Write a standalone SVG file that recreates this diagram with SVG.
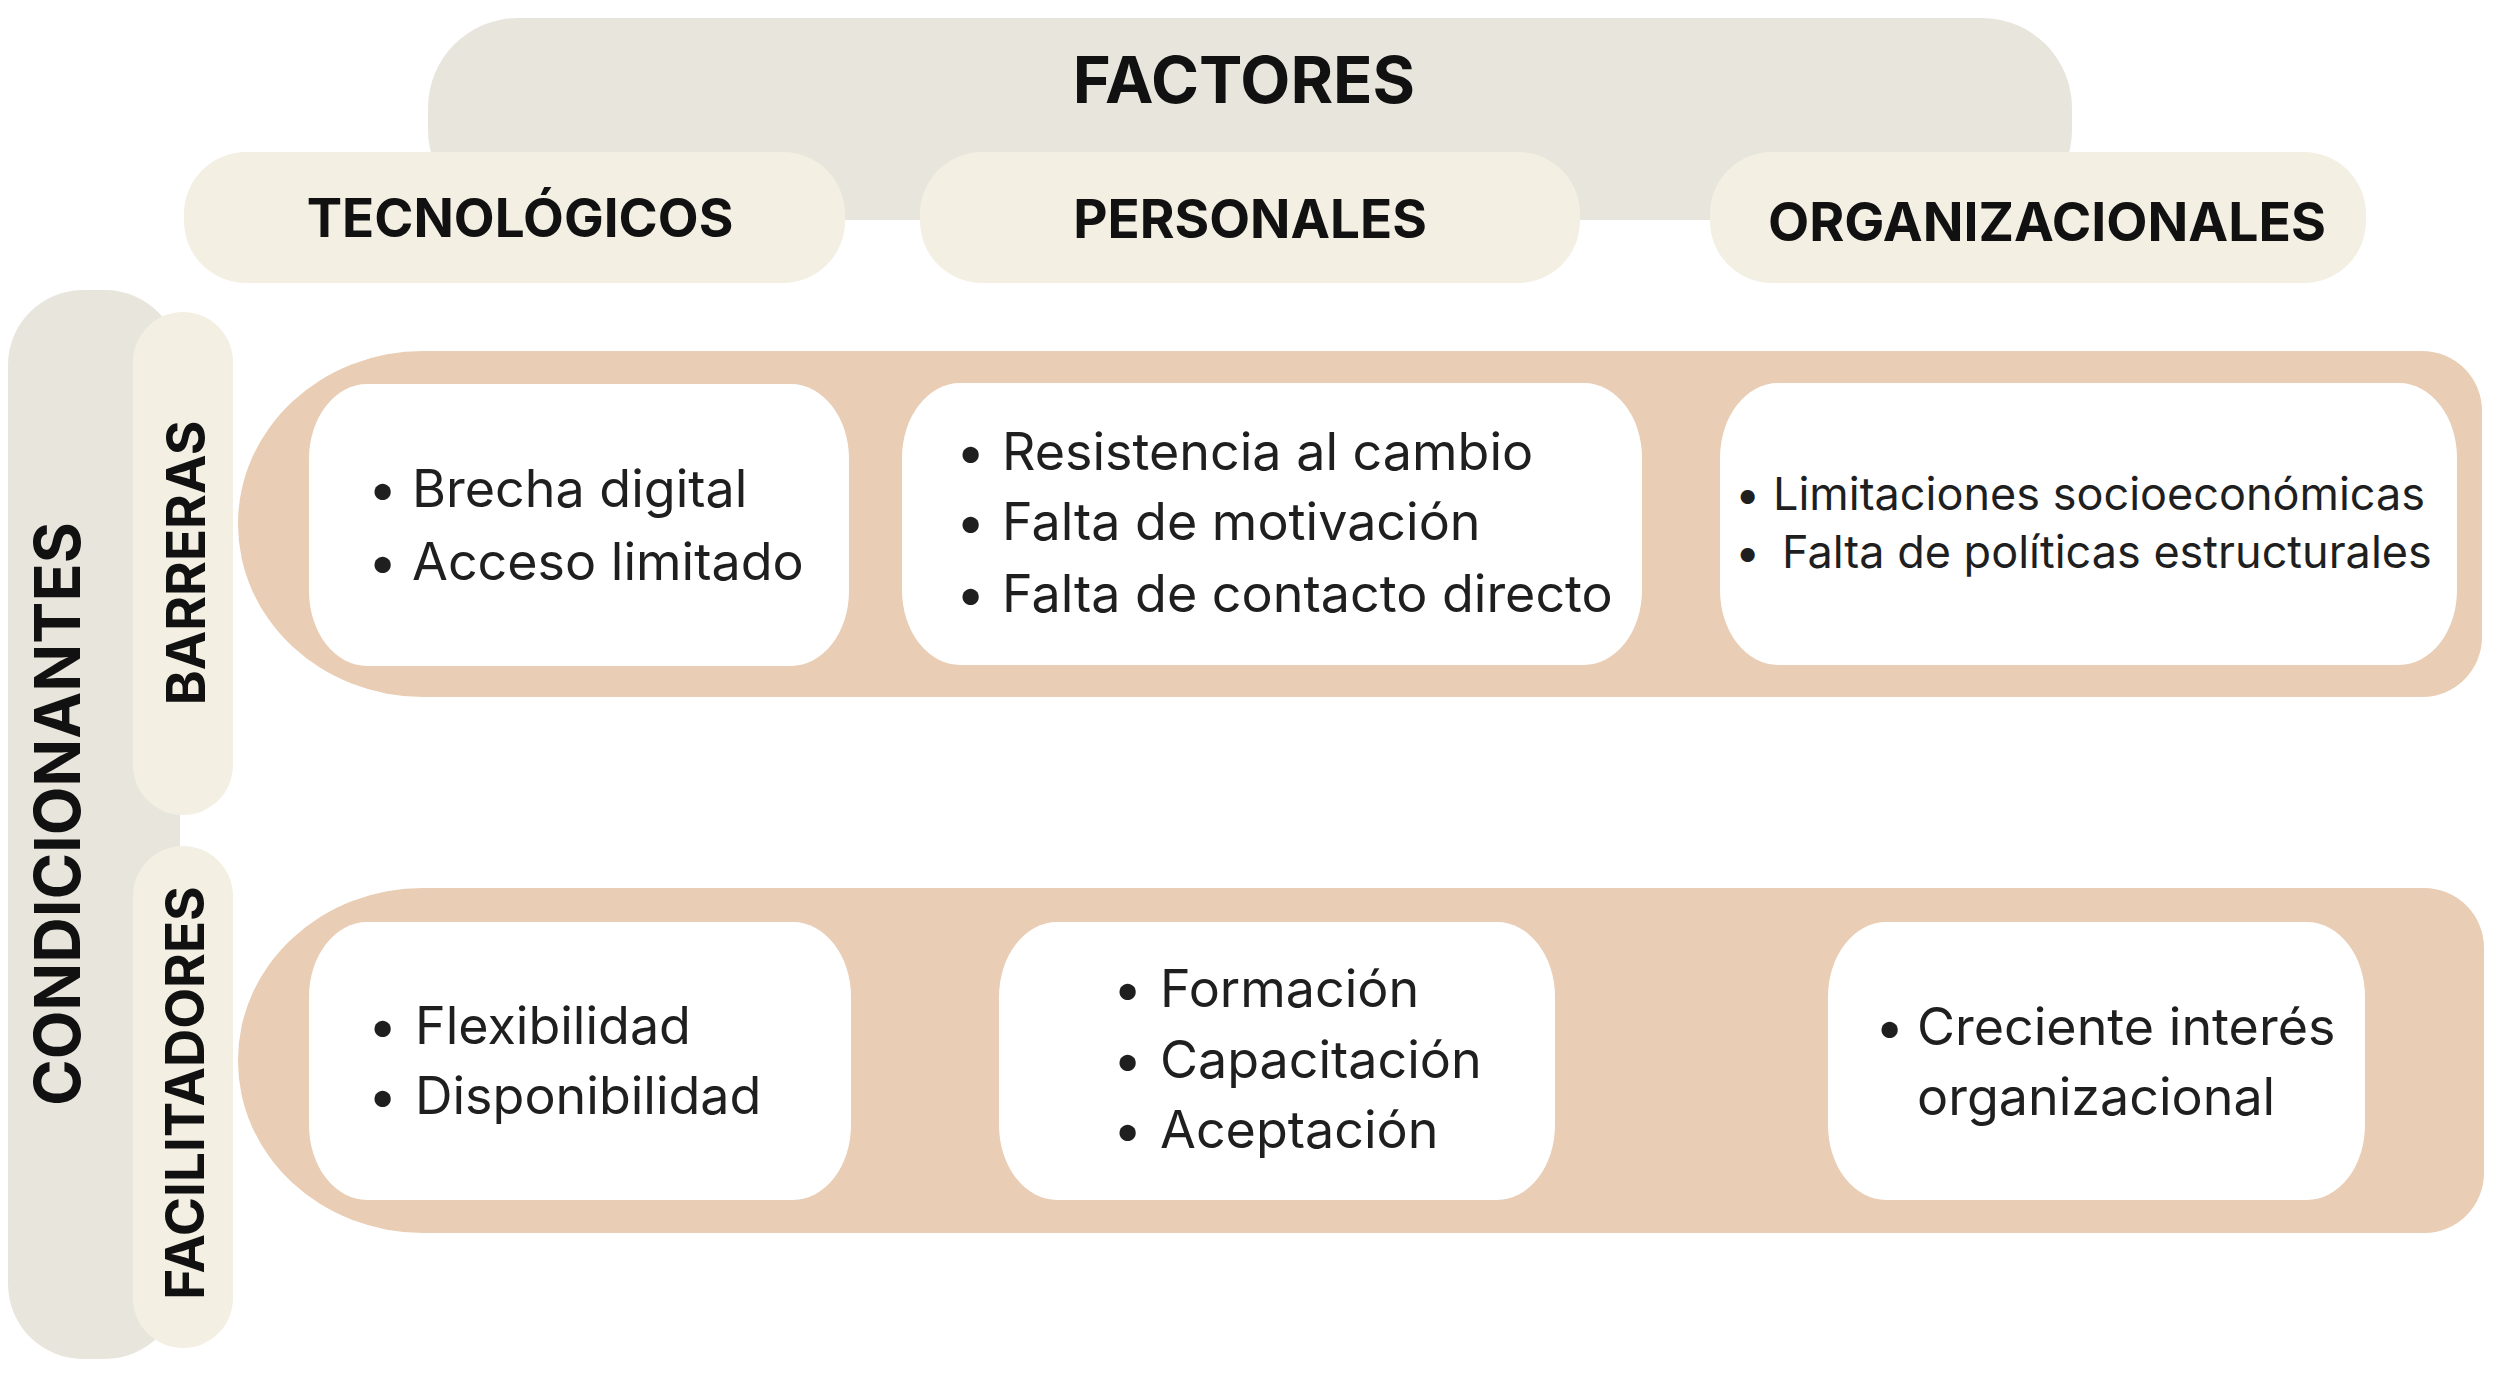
<svg xmlns="http://www.w3.org/2000/svg" width="2508" height="1376" viewBox="0 0 2508 1376">
<style>
.gray{fill:#E8E6DC}
.cream{fill:#F4EFE3}
.tan{fill:#E9CDB4}
.white{fill:#FFFFFF}
.hd{font-family:Inter,"Liberation Sans",sans-serif;font-weight:700;fill:#111;text-anchor:middle}
.bd{font-family:Inter,"Liberation Sans",sans-serif;font-weight:400;fill:#1f1f1f;font-size:52px}
.sm{font-size:45px}
</style>
<rect x="0" y="0" width="2508" height="1376" fill="#FFFFFF"/>
<g id="factores">
<rect class="gray" x="428" y="18" width="1644" height="202" rx="90" ry="90"/>
<text class="hd" x="1244" y="103" font-size="65">FACTORES</text>
</g>
<g id="tecnologicos">
<rect class="cream" x="184" y="152" width="661" height="131" rx="62" ry="62"/>
<text class="hd" x="520" y="237" font-size="53">TECNOLÓGICOS</text>
</g>
<g id="personales">
<rect class="cream" x="920" y="152" width="660" height="131" rx="62" ry="62"/>
<text class="hd" x="1250" y="238" font-size="53">PERSONALES</text>
</g>
<g id="organizacionales">
<rect class="cream" x="1710" y="152" width="656" height="131" rx="62" ry="62"/>
<text class="hd" x="2047" y="241" font-size="53.5">ORGANIZACIONALES</text>
</g>
<g id="condicionantes">
<rect class="gray" x="8" y="290" width="172" height="1069" rx="75" ry="75"/>
<text class="hd" font-size="63" transform="translate(80,814) rotate(-90)">CONDICIONANTES</text>
</g>
<g id="barreras">
<rect class="cream" x="133" y="312" width="100" height="503" rx="50" ry="50"/>
<text class="hd" font-size="53" transform="translate(205,563) rotate(-90)">BARRERAS</text>
</g>
<g id="facilitadores">
<rect class="cream" x="133" y="846" width="100" height="502" rx="50" ry="50"/>
<text class="hd" font-size="53" transform="translate(204,1093) rotate(-90)">FACILITADORES</text>
</g>
<g id="fila-barreras">
<path class="tan" d="M 423 351 H 2422 A 60 60 0 0 1 2482 411 V 637 A 60 60 0 0 1 2422 697 H 423 A 185 173 0 0 1 238 524 A 185 173 0 0 1 423 351 Z"/>
</g>
<g id="fila-facilitadores">
<path class="tan" d="M 423 888 H 2424 A 60 60 0 0 1 2484 948 V 1173 A 60 60 0 0 1 2424 1233 H 423 A 185 172 0 0 1 238 1060 A 185 172 0 0 1 423 888 Z"/>
</g>
<g id="b-tecnologicos">
<rect class="white" x="309" y="384" width="540" height="282" rx="58" ry="75"/>
<text class="bd"><tspan x="368" y="507">•</tspan><tspan x="412" y="507">Brecha digital</tspan><tspan x="368" y="580">•</tspan><tspan x="412" y="580">Acceso limitado</tspan></text>
</g>
<g id="b-personales">
<rect class="white" x="902" y="383" width="740" height="282" rx="58" ry="75"/>
<text class="bd"><tspan x="956" y="470">•</tspan><tspan x="1002" y="470">Resistencia al cambio</tspan><tspan x="956" y="540">•</tspan><tspan x="1002" y="540">Falta de motivación</tspan><tspan x="956" y="612">•</tspan><tspan x="1002" y="612">Falta de contacto directo</tspan></text>
</g>
<g id="b-organizacionales">
<rect class="white" x="1720" y="383" width="737" height="282" rx="58" ry="75"/>
<text class="bd sm"><tspan x="1735" y="510">•</tspan><tspan x="1773" y="510">Limitaciones socioeconómicas</tspan><tspan x="1735" y="568">•</tspan><tspan x="1782" y="568">Falta de políticas estructurales</tspan></text>
</g>
<g id="f-tecnologicos">
<rect class="white" x="309" y="922" width="542" height="278" rx="58" ry="75"/>
<text class="bd"><tspan x="368" y="1044">•</tspan><tspan x="415" y="1044">Flexibilidad</tspan><tspan x="368" y="1114">•</tspan><tspan x="415" y="1114">Disponibilidad</tspan></text>
</g>
<g id="f-personales">
<rect class="white" x="999" y="922" width="556" height="278" rx="58" ry="75"/>
<text class="bd"><tspan x="1113" y="1007">•</tspan><tspan x="1160" y="1007">Formación</tspan><tspan x="1113" y="1078">•</tspan><tspan x="1160" y="1078">Capacitación</tspan><tspan x="1113" y="1148">•</tspan><tspan x="1160" y="1148">Aceptación</tspan></text>
</g>
<g id="f-organizacionales">
<rect class="white" x="1828" y="922" width="537" height="278" rx="58" ry="75"/>
<text class="bd"><tspan x="1875" y="1045">•</tspan><tspan x="1917" y="1045">Creciente interés</tspan><tspan x="1917" y="1115">organizacional</tspan></text>
</g>
<g id="connectors"></g>
</svg>
